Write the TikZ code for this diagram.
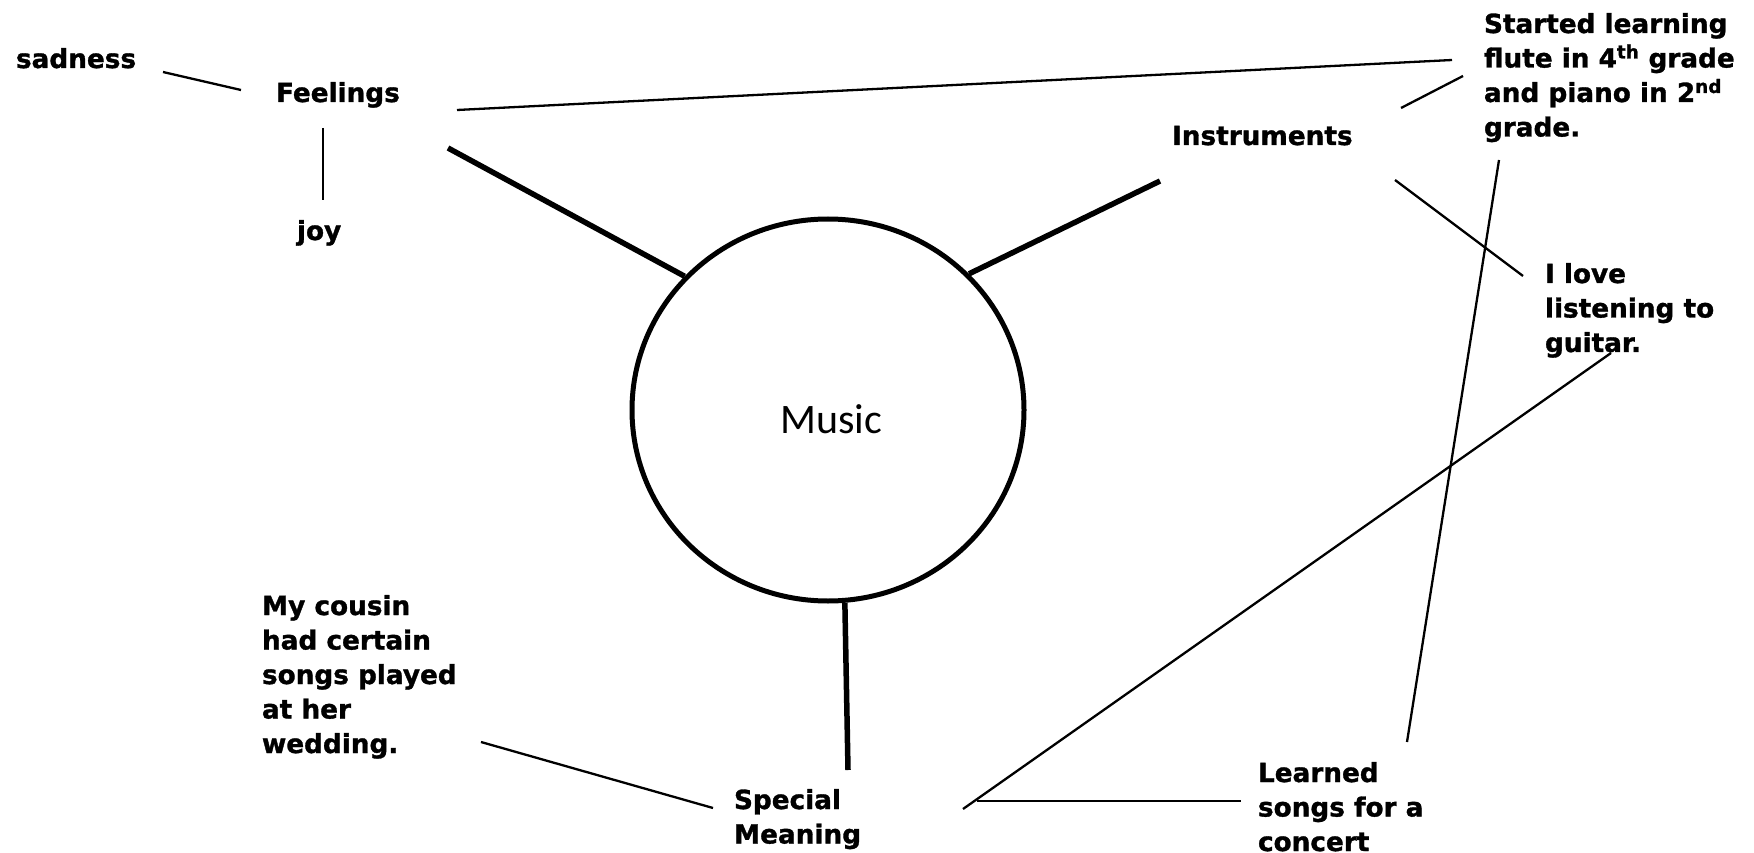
\documentclass[tikz,border=0pt]{standalone}
\usepackage{fontspec}
\usetikzlibrary{shapes.geometric}
\newfontfamily\vfont{DejaVu Sans}[BoldFeatures={FakeBold=1.2}]
\newfontfamily\cfont{Carlito}
\newcommand{\mylines}[1]{\vtop{\let\\\cr\halign{##\hfil\cr#1\crcr}}}
\begin{document}
\begin{tikzpicture}[x=1pt,y=-1pt,
  txt/.style={anchor=base west,inner sep=0pt,outer sep=0pt,font=\vfont\bfseries\fontsize{26.3}{34.5}\selectfont},
  thin/.style={line width=2.3pt},
  thick/.style={line width=5.5pt},
  hub/.style={ellipse,draw,line width=5pt,minimum width=392pt,minimum height=382pt,inner sep=0pt}
]
\fill[white] (0,0) rectangle (1754,853);
\useasboundingbox (0,0) rectangle (1754,853);

\node[hub] (music) at (828,410) {};
\node[anchor=base,inner sep=0pt,font=\cfont\fontsize{42}{50}\selectfont] (musiclbl) at (831,433) {Music};

\node[txt] (sad) at (16,68) {sadness};
\node[txt] (feel) at (276,102) {Feelings};
\node[txt] (joy) at (297,240) {joy};
\node[txt] (instr) at (1172,145) {Instruments};
\node[txt] (start) at (1484,33) {\mylines{Started learning\\flute in 4\textsuperscript{th} grade\\and piano in 2\textsuperscript{nd}\\grade.}};
\node[txt] (love) at (1545,283) {\mylines{I love\\listening to\\guitar.}};
\node[txt] (cousin) at (262,615) {\mylines{My cousin\\had certain\\songs played\\at her\\wedding.}};
\node[txt] (special) at (734,809) {\mylines{Special\\Meaning}};
\node[txt] (learned) at (1258,782) {\mylines{Learned\\songs for a\\concert}};

% thin connectors
\draw[thin] ([shift={(147,4)}]sad.base west) -- ([shift={(-35,-12)}]feel.base west);
\draw[thin] ([shift={(47,26)}]feel.base west) -- ([shift={(26,-40)}]joy.base west);
\draw[thin] ([shift={(181,8)}]feel.base west) -- ([shift={(-32,27)}]start.base west);
\draw[thin] ([shift={(229,-37)}]instr.base west) -- ([shift={(-21,43)}]start.base west);
\draw[thin] ([shift={(223,35)}]instr.base west) -- ([shift={(-22,-7)}]love.base west);
\draw[thin] ([shift={(15,127)}]start.base west) -- ([shift={(149,-40)}]learned.base west);
\draw[thin] ([shift={(66,70)}]love.base west) -- ([shift={(229,0)}]special.base west);
\draw[thin] ([shift={(243,-8)}]special.base west) -- ([shift={(-17,19)}]learned.base west);
\draw[thin] ([shift={(219,127)}]cousin.base west) -- ([shift={(-21,-1)}]special.base west);

% thick connectors to the hub
\draw[thick] ([shift={(172,46)}]feel.base west) -- (music.137.7);
\draw[thick] ([shift={(-12,36)}]instr.base west) -- (music.44.4);
\draw[thick] (music.-85.9) -- ([shift={(114,-39)}]special.base west);
\end{tikzpicture}
\end{document}
